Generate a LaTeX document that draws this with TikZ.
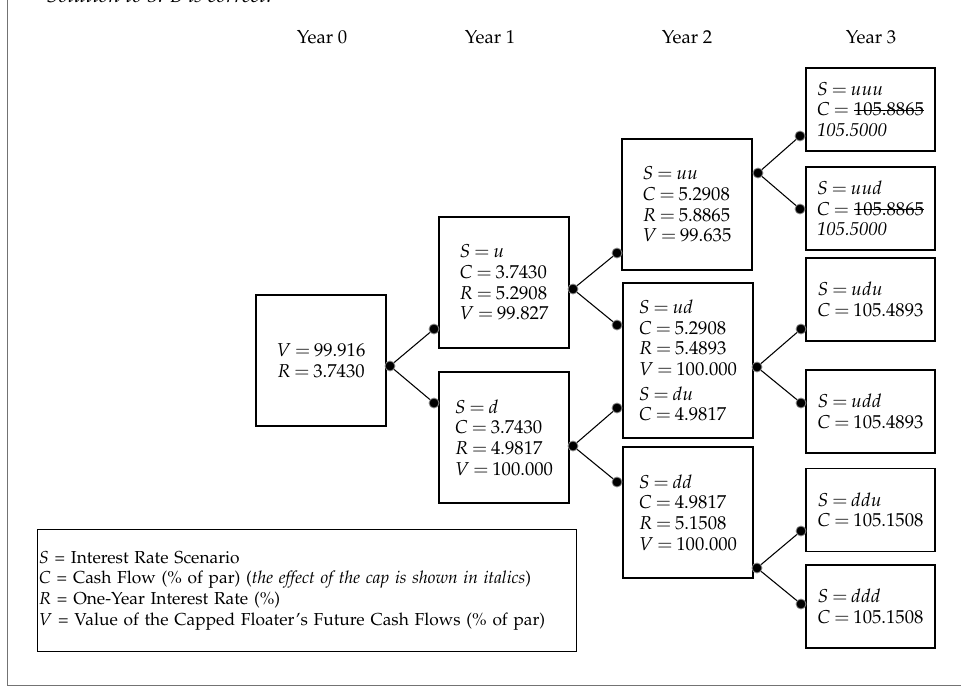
\documentclass[tikz,border=0pt]{standalone}
\usepackage[T1]{fontenc}
\usepackage{mathpazo}
\usetikzlibrary{positioning}
\AtBeginDocument{\thickmuskip=3.5mu plus 2mu\relax}
\newsavebox\strikebox
\newcommand\struck[1]{\sbox\strikebox{#1}%
  \rlap{\rule[0.28em]{\wd\strikebox}{0.55pt}}\usebox\strikebox}

\begin{document}
\begin{tikzpicture}[
  x=0.75pt, y=-0.75pt,
  font=\fontsize{14}{15.5}\selectfont,
  box/.style={draw, line width=0.8pt, align=left, inner sep=0pt,
              minimum width=97.5pt, minimum height=98.25pt},
  bigbox/.style={box, minimum height=116.25pt},
  leaf/.style={box, minimum width=96.75pt, minimum height=62.25pt},
  knot/.style={circle, fill=black, draw=black!45, line width=0.6pt,
               inner sep=0pt, minimum size=7.5pt},
  link/.style={line width=0.8pt},
  frame/.style={draw=black!55, line width=1.2pt},
  yr/.style={anchor=base}]
\useasboundingbox (0,0) rectangle (961,687);
% ---- page frame ----
\begin{scope}
  \clip (0,0) rectangle (961,687);
  \node[anchor=base west, font=\fontsize{16}{18}\selectfont\itshape] (cap)
    at (42,2) {Solution to 3: B is correct.};
\end{scope}
\draw[frame] (7.5,0) -- (7.5,685.5) -- (961,685.5);
% ---- years ----
\node[yr] (y0) at (322,43) {Year 0};
\node[yr] (y1) at (490,43) {Year 1};
\node[yr] (y2) at (687,43) {Year 2};
\node[yr] (y3) at (871,43) {Year 3};
% ---- year 0 and 1 ----
\node[box, align=center] (root) at (321,360.5) {$V = 99.916$\\$R = 3.7430$};
\node[box] (u) at (504,282.5)
  {$S = u$\\$C = 3.7430$\\$R = 5.2908$\\$V = 99.827$};
\node[box] (d) at (504,437.5)
  {$S = d$\\$C = 3.7430$\\$R = 4.9817$\\$V = 100.000$};
% ---- year 2 ----
\node[box] (uu) at (687,204.5)
  {$S = uu$\\$C = 5.2908$\\$R = 5.8865$\\$V = 99.635$};
\node[bigbox] (ud) at (688,360.5)
  {$S = ud$\\$C = 5.2908$\\$R = 5.4893$\\$V = 100.000$\\[3pt]$S = du$\\$C = 4.9817$};
\node[box] (dd) at (688,512.5)
  {$S = dd$\\$C = 4.9817$\\$R = 5.1508$\\$V = 100.000$};
% ---- year 3 ----
\node[leaf] (uuu) at (870.5,109.5)
  {$S = uuu$\\$C =$ \struck{105.8865}\\\textit{105.5000}};
\node[leaf] (uud) at (870.5,208.5)
  {$S = uud$\\$C =$ \struck{105.8865}\\\textit{105.5000}};
\node[leaf] (udu) at (870.5,299.5) {$S = udu$\\$C = 105.4893$};
\node[leaf] (udd) at (870.5,411.5) {$S = udd$\\$C = 105.4893$};
\node[leaf] (ddu) at (870.5,510) {$S = ddu$\\$C = 105.1508$};
\node[leaf] (ddd) at (870.5,606.5) {$S = ddd$\\$C = 105.1508$};
% ---- knots ----
\node[knot] (root-o) at (390,366) {};
\node[knot] (u-i) at (434,329) {};
\node[knot] (d-i) at (434,403) {};
\node[knot] (u-o) at (573,289) {};
\node[knot] (uu-i) at (617,253) {};
\node[knot] (ud-i) at (617,325) {};
\node[knot] (d-o) at (573,446) {};
\node[knot] (du-i) at (617,408) {};
\node[knot] (dd-i) at (617,482) {};
\node[knot] (uu-o) at (758,173) {};
\node[knot] (uuu-i) at (800,136) {};
\node[knot] (uud-i) at (800,209) {};
\node[knot] (ud-o) at (757,367) {};
\node[knot] (udu-i) at (801,329) {};
\node[knot] (udd-i) at (801,403) {};
\node[knot] (dd-o) at (757,568) {};
\node[knot] (ddu-i) at (801,531) {};
\node[knot] (ddd-i) at (801,604) {};
\draw[link] (u-i) -- (root-o) -- (d-i);
\draw[link] (uu-i) -- (u-o) -- (ud-i);
\draw[link] (du-i) -- (d-o) -- (dd-i);
\draw[link] (uuu-i) -- (uu-o) -- (uud-i);
\draw[link] (udu-i) -- (ud-o) -- (udd-i);
\draw[link] (ddu-i) -- (dd-o) -- (ddd-i);
% ---- key ----
\node[draw, line width=0.8pt, anchor=north west, align=left, text width=402pt,
      inner xsep=1pt, inner ysep=0pt, minimum height=91.5pt,
      font=\fontsize{13}{15.5}\selectfont] (key) at (37,529)
  {$S$ = Interest Rate Scenario\\
   $C$ = Cash Flow (\% of par) (\textit{the effect of the cap is shown in italics})\\
   $R$ = One-Year Interest Rate (\%)\\
   $V$ = Value of the Capped Floater's Future Cash Flows (\% of par)};
\end{tikzpicture}
\end{document}
